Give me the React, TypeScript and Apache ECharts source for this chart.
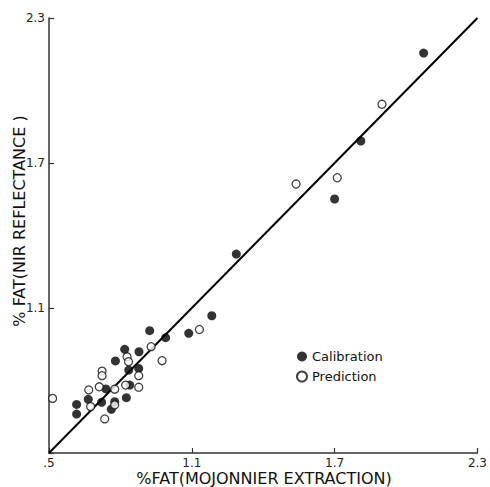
import React, { useEffect, useRef } from "react";
import * as echarts from "echarts";

const xTicks = [0.5, 1.1, 1.7, 2.3];
const fitLine = [0.5, 2.3];

const calibration: [number, number][] = [
  [2.074, 2.155], [1.81, 1.791], [1.7, 1.551], [1.287, 1.323], [1.184, 1.068],
  [1.087, 0.995], [0.99, 0.977], [0.923, 1.006], [0.818, 0.929], [0.878, 0.919],
  [0.779, 0.881], [0.835, 0.843], [0.877, 0.85], [0.739, 0.765], [0.665, 0.722],
  [0.616, 0.701], [0.616, 0.661], [0.721, 0.71], [0.762, 0.681], [0.776, 0.712],
  [0.825, 0.729], [0.839, 0.781],
];

const prediction: [number, number][] = [
  [0.515, 0.726], [0.929, 0.94], [0.975, 0.882], [1.132, 1.011], [0.828, 0.898],
  [0.834, 0.878], [0.723, 0.839], [0.723, 0.82], [0.711, 0.774], [0.667, 0.761],
  [0.776, 0.764], [0.822, 0.781], [0.877, 0.82], [0.877, 0.772], [0.675, 0.692],
  [0.776, 0.699], [0.734, 0.641], [1.711, 1.639], [1.538, 1.613], [1.899, 1.943],
];

const FONT = "'DejaVu Sans', sans-serif";

export default function App() {
  const ref = useRef<HTMLDivElement>(null);
  useEffect(() => {
    if (!ref.current) return;
    const chart = echarts.init(ref.current, null, { renderer: "svg" });
    const axisCommon = {
      type: "value" as const,
      min: xTicks[0],
      max: xTicks[xTicks.length - 1],
      interval: 0.6,
      splitLine: { show: false },
      axisLine: { show: true, lineStyle: { color: "#333", width: 1.5 } },
      axisTick: { show: true, inside: true, length: 5, lineStyle: { color: "#333", width: 1.2 } },
    };
    chart.setOption({
      animation: false,
      backgroundColor: "#fff",
      grid: { left: 49, right: 11, top: 18, bottom: 34, containLabel: false },
      xAxis: {
        ...axisCommon,
        axisLabel: {
          fontSize: 12,
          color: "#222",
          fontFamily: FONT,
          margin: 3,
          lineHeight: 13,
          formatter: (v: number) => (Math.abs(v - 0.5) < 1e-6 ? ".5" : v.toFixed(1)),
        },
      },
      yAxis: {
        ...axisCommon,
        axisLabel: {
          fontSize: 12,
          color: "#222",
          fontFamily: FONT,
          margin: 4,
          formatter: (v: number) => (v < 0.6 ? "" : v.toFixed(1)),
        },
      },
      legend: {
        orient: "vertical",
        left: 291,
        top: 345,
        itemWidth: 10,
        itemHeight: 10,
        itemGap: 7,
        textStyle: { fontSize: 13, color: "#111", fontFamily: FONT },
        data: ["Calibration", "Prediction"],
      },
      graphic: [
        {
          type: "text",
          x: 264,
          y: 478,
          style: {
            text: "%FAT(MOJONNIER EXTRACTION)",
            fontSize: 16,
            lineHeight: 16,
            fontFamily: FONT,
            fill: "#111",
            align: "center",
            verticalAlign: "middle",
          },
        },
        {
          type: "text",
          x: 19,
          y: 221,
          rotation: Math.PI / 2,
          style: {
            text: "% FAT(NIR REFLECTANCE )",
            fontSize: 16,
            fontFamily: FONT,
            fill: "#111",
            align: "center",
            verticalAlign: "middle",
          },
        },
      ],
      series: [
        {
          type: "line",
          data: [[fitLine[0], fitLine[0]], [fitLine[1], fitLine[1]]],
          symbol: "none",
          lineStyle: { color: "#000", width: 2 },
          silent: true,
          z: 1,
        },
        {
          name: "Calibration",
          type: "scatter",
          data: calibration,
          symbol: "circle",
          symbolSize: 9,
          itemStyle: { color: "#000" },
          z: 2,
        },
        {
          name: "Prediction",
          type: "scatter",
          data: prediction,
          symbol: "circle",
          symbolSize: 8,
          itemStyle: { color: "#fff", borderColor: "#111", borderWidth: 1.3 },
          z: 3,
        },
      ],
    });
    return () => chart.dispose();
  }, []);
  return (
    <div
      ref={ref}
      style={{ position: "absolute", left: 0, top: 0, width: 490, height: 487 }}
    />
  );
}
